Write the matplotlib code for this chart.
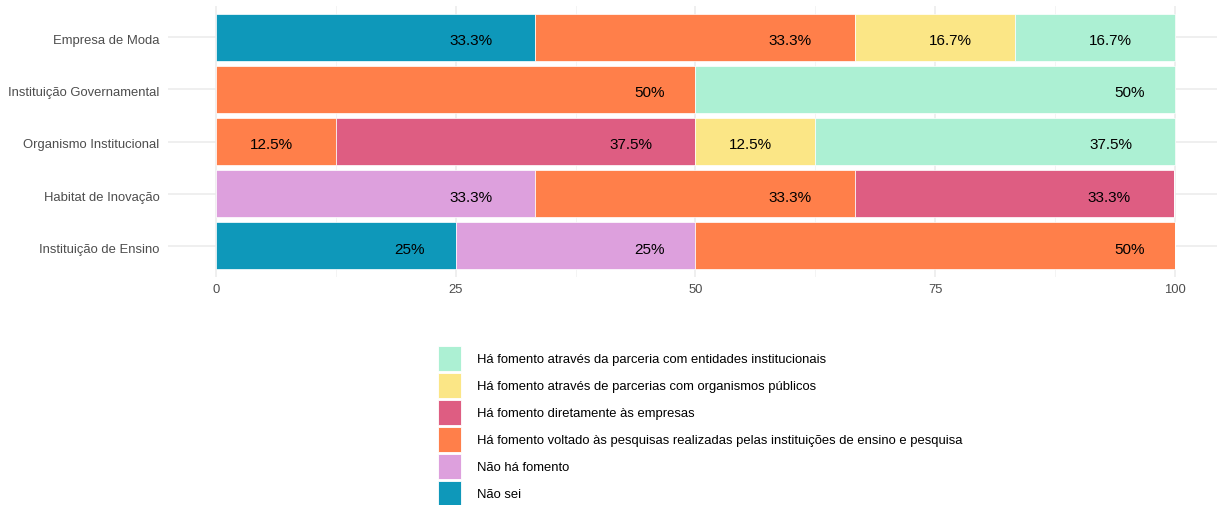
import matplotlib.pyplot as plt
import matplotlib.transforms as mtransforms
from matplotlib.patches import Patch
import numpy as np

plt.rcParams['font.family'] = ['Liberation Sans', 'DejaVu Sans']

# categories, top to bottom
categories = ["Empresa de Moda", "Instituição Governamental", "Organismo Institucional",
              "Habitat de Inovação", "Instituição de Ensino"]

# response groups, in stacking order (left to right)
groups = [
    "Não sei",
    "Não há fomento",
    "Há fomento voltado às pesquisas realizadas pelas instituições de ensino e pesquisa",
    "Há fomento diretamente às empresas",
    "Há fomento através de parcerias com organismos públicos",
    "Há fomento através da parceria com entidades institucionais",
]
colors = ["#0E98BA", "#DDA0DD", "#FF7F4A", "#DE5D82", "#FBE686", "#ACF0D3"]

# percentages per group, one value per category
nao_sei = [33.3, 0, 0, 0, 25]
nao_ha = [0, 0, 0, 33.3, 25]
pesquisas = [33.3, 50, 12.5, 33.3, 50]
diretamente = [0, 0, 37.5, 33.3, 0]
publicos = [16.7, 0, 12.5, 0, 0]
entidades = [16.7, 50, 37.5, 0, 0]
values = [nao_sei, nao_ha, pesquisas, diretamente, publicos, entidades]
label_texts = {33.3: "33.3%", 16.7: "16.7%", 50: "50%", 12.5: "12.5%", 37.5: "37.5%", 25: "25%"}

fig = plt.figure(figsize=(12.17, 5.06), dpi=100)
ax = fig.add_axes([168 / 1217, 228 / 506, 1049 / 1217, 271 / 506])

ypos = np.arange(len(categories))
left = np.zeros(len(categories))
labels = []
for name, vals, col in zip(groups, values, colors):
    vals = np.array(vals, dtype=float)
    ax.barh(ypos, vals, left=left, height=0.9, color=col, edgecolor="white",
            linewidth=0.5, zorder=2)
    for y, v, l in zip(ypos, vals, left):
        if v > 0:
            t = ax.text(l + v, y, label_texts[v], ha="center", va="center_baseline",
                        fontsize=11, color="black", zorder=3)
            labels.append(t)
    left += vals

ax.set_xlim(-5, 100 + 42 / 9.59)
ax.set_ylim(len(categories) - 0.4, -0.6)
ax.set_yticks(ypos)
ax.set_yticklabels(categories)
ax.set_xticks([0, 25, 50, 75, 100])
ax.set_xticks([12.5, 37.5, 62.5, 87.5], minor=True)
ax.tick_params(axis="both", length=0, labelsize=9.4, colors="#4D4D4D", pad=4)
ax.tick_params(axis="x", which="minor", length=0)
ax.tick_params(axis="y", pad=6)
down = mtransforms.ScaledTranslation(0, -1.5 / fig.dpi, fig.dpi_scale_trans)
for lab in ax.get_yticklabels():
    lab.set_va("center_baseline")
    lab.set_transform(lab.get_transform() + down)
ax.grid(True, which="major", color="#EBEBEB", linewidth=1.1, zorder=0)
ax.grid(True, which="minor", axis="x", color="#F2F2F2", linewidth=0.6, zorder=0)
ax.set_axisbelow(True)
for s in ax.spines.values():
    s.set_visible(False)

# place each label like ggplot hjust=2: centre sits 1.5 text widths left of segment end
fig.canvas.draw()
renderer = fig.canvas.get_renderer()
for t in labels:
    w = t.get_window_extent(renderer).width
    t.set_transform(ax.transData + mtransforms.ScaledTranslation(-1.5 * w / fig.dpi, -1.5 / fig.dpi,
                                                                 fig.dpi_scale_trans))

handles = [Patch(facecolor=c, edgecolor="white", linewidth=0.6) for c in colors]
fig.legend(handles[::-1], groups[::-1], loc="upper left",
           bbox_to_anchor=(434 / 1217, 1 - 343 / 506), frameon=False,
           fontsize=9.4, handlelength=1.76, handleheight=2.57, labelspacing=0.15,
           handletextpad=1.22, borderaxespad=0, borderpad=0.3)

fig.savefig("out.png", dpi=100, facecolor="white")
